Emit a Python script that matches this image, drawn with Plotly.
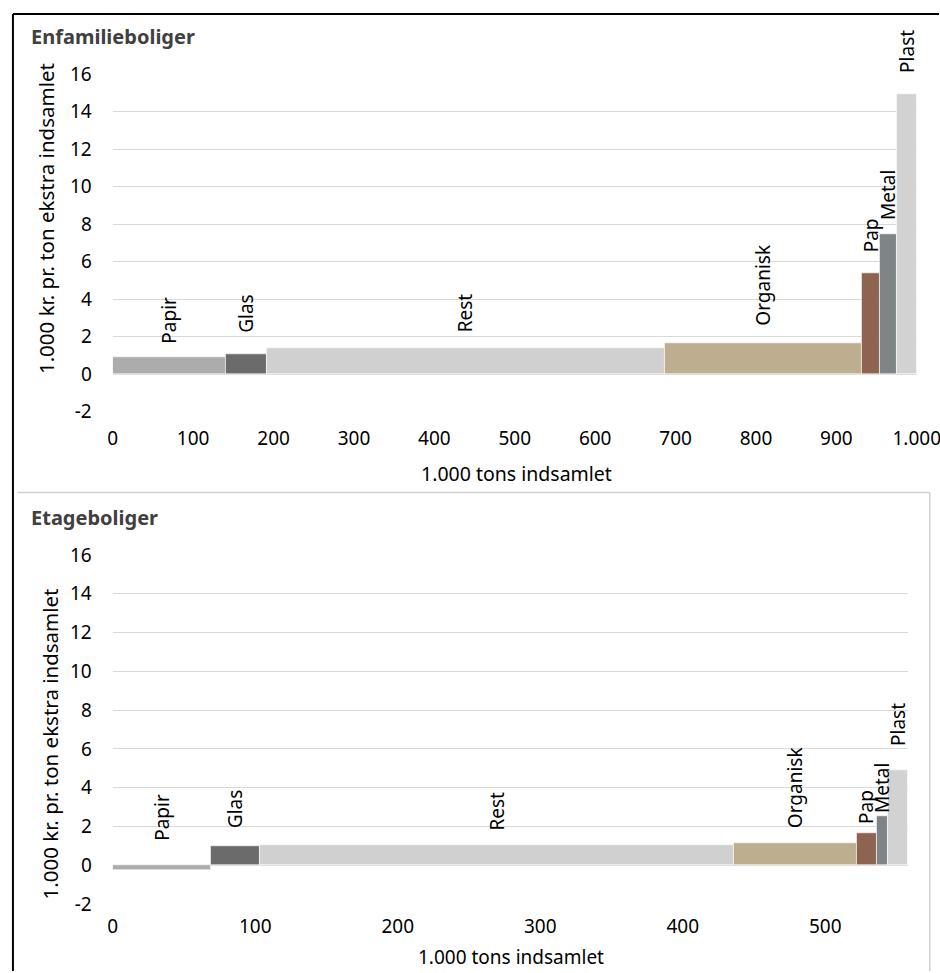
import numpy as np
import plotly.graph_objects as go

# ---------------- data ----------------
categories = ["Papir", "Glas", "Rest", "Organisk", "Pap", "Metal", "Plast"]
colors = ["#acacac", "#6b6b6b", "#d0d0d0", "#bdae8f", "#8c6450", "#7f8486", "#d2d2d2"]

# Enfamilieboliger: amount collected (1.000 tons) and extra cost (1.000 kr. per ton)
enf_tons = [140, 51, 495, 245, 23, 21, 25]
enf_cost = [0.92, 1.05, 1.38, 1.68, 5.4, 7.45, 14.95]
enf_label_y = [1.5, 2.12, 2.12, 2.5, 6.37, 8.13, 15.97]

# Etageboliger
eta_tons = [69, 34, 333, 86, 14, 8, 14]
eta_cost = [-0.25, 1.01, 1.05, 1.12, 1.64, 2.55, 4.9]
eta_label_y = [1.18, 1.8, 1.7, 1.8, 2.0, 2.6, 6.07]

y_ticks = [-2, 0, 2, 4, 6, 8, 10, 12, 14, 16]
y_tick_labels = ["-2", "0", "2", "4", "6", "8", "10", "12", "14", "16"]

FONT = "Noto Sans"

# page-to-picture calibration (picture = S * page + offset)
S, OY = 0.9765, 13.0
WF, HF = 963, 984


def fx(px):
    return px / S / WF


def fy(py):
    return 1 - (py - OY) / S / HF


fig = go.Figure()

panels = [
    dict(name="Enfamilieboliger", tons=enf_tons, cost=enf_cost, ly=enf_label_y,
         xa="x", ya="y", x0=108.5, x1=918, y_top=74.3, y_bot=413.0, xmax=1000,
         title=(24, 37), xt=(515, 475), yt=(42, 219), xstand=13, xtfs=19.5),
    dict(name="Etageboliger", tons=eta_tons, cost=eta_cost, ly=eta_label_y,
         xa="x2", ya="y2", x0=108.5, x1=909, y_top=556.7, y_bot=906.7, xmax=558,
         title=(24, 519), xt=(509, 960), yt=(45, 746), xstand=9, xtfs=19),
]

annotations = []
for i, p in enumerate(panels):
    tons = np.array(p["tons"], dtype=float)
    left = np.concatenate([[0], np.cumsum(tons)[:-1]])
    centers = left + tons / 2
    fig.add_trace(go.Bar(
        x=left, y=p["cost"], width=tons, offset=0,
        marker=dict(color=colors, line=dict(color="#ffffff", width=0.6)),
        xaxis=p["xa"], yaxis=p["ya"], showlegend=False,
        hovertext=categories,
    ))
    for c, cx, ly in zip(categories, centers, p["ly"]):
        annotations.append(dict(
            x=cx, y=ly, xref=p["xa"], yref=p["ya"], text=c, textangle=-90,
            showarrow=False, yanchor="bottom", xanchor="center",
            font=dict(family=FONT, size=19, color="#000000"),
        ))
    suffix = "" if i == 0 else "2"
    fig.update_layout(**{
        "xaxis" + suffix: dict(
            domain=[fx(p["x0"]), fx(p["x1"])], range=[0, p["xmax"]], dtick=100, tick0=0,
            showgrid=False, zeroline=False, showline=False, ticks="",
            separatethousands=True, anchor=p["ya"], ticklabelstandoff=p["xstand"],
            ticklabeloverflow="allow",
            tickfont=dict(family=FONT, size=19, color="#000000"),
        ),
        "yaxis" + suffix: dict(
            domain=[fy(p["y_bot"]), fy(p["y_top"])], range=[-2, 16],
            tickvals=y_ticks, ticktext=y_tick_labels,
            showgrid=True, gridcolor="#d9d9d9", gridwidth=1, zeroline=True,
            zerolinecolor="#d9d9d9", zerolinewidth=1, showline=False, ticks="",
            anchor=p["xa"], ticklabelstandoff=20,
            tickfont=dict(family=FONT, size=19, color="#000000"),
        ),
    })
    annotations.append(dict(
        x=fx(p["title"][0]), y=fy(p["title"][1]), xref="paper", yref="paper",
        text="<b>" + p["name"] + "</b>",
        showarrow=False, xanchor="left", yanchor="middle",
        font=dict(family=FONT, size=20, color="#404040"),
    ))
    annotations.append(dict(
        x=fx(p["xt"][0]), y=fy(p["xt"][1]), xref="paper", yref="paper",
        text="1.000 tons indsamlet", showarrow=False, xanchor="center", yanchor="middle",
        font=dict(family=FONT, size=p["xtfs"], color="#000000"),
    ))
    annotations.append(dict(
        x=fx(p["yt"][0]), y=fy(p["yt"][1]), xref="paper", yref="paper",
        text="1.000 kr. pr. ton ekstra indsamlet", textangle=-90,
        showarrow=False, xanchor="center", yanchor="middle",
        font=dict(family=FONT, size=20.5, color="#000000"),
    ))

shapes = [
    # outer black frame (left and top)
    dict(type="line", xref="paper", yref="paper", x0=fx(8), x1=fx(8), y0=0, y1=fy(14),
         line=dict(color="#000000", width=2)),
    dict(type="line", xref="paper", yref="paper", x0=fx(8), x1=1, y0=fy(14), y1=fy(14),
         line=dict(color="#000000", width=2)),
    # separator between panels
    dict(type="line", xref="paper", yref="paper", x0=fx(13), x1=fx(931), y0=fy(494), y1=fy(494),
         line=dict(color="#d0d0d0", width=1.5)),
    dict(type="line", xref="paper", yref="paper", x0=fx(931), x1=fx(931), y0=0, y1=fy(494),
         line=dict(color="#d0d0d0", width=1.5)),
]

fig.update_layout(
    width=WF, height=HF, margin=dict(l=0, r=0, t=0, b=0),
    paper_bgcolor="#ffffff", plot_bgcolor="#ffffff",
    separators=",.", bargap=0,
    annotations=annotations, shapes=shapes,
    font=dict(family=FONT, size=19, color="#000000"),
)

fig.write_html(
    "out.html",
    config={"displayModeBar": False},
    post_script="document.body.style.margin='0';document.body.style.padding='0';"
                "document.body.style.overflow='hidden';"
                "var gd=document.getElementById('{plot_id}');"
                "gd.style.position='fixed';gd.style.left='0px';gd.style.top='0px';",
)
